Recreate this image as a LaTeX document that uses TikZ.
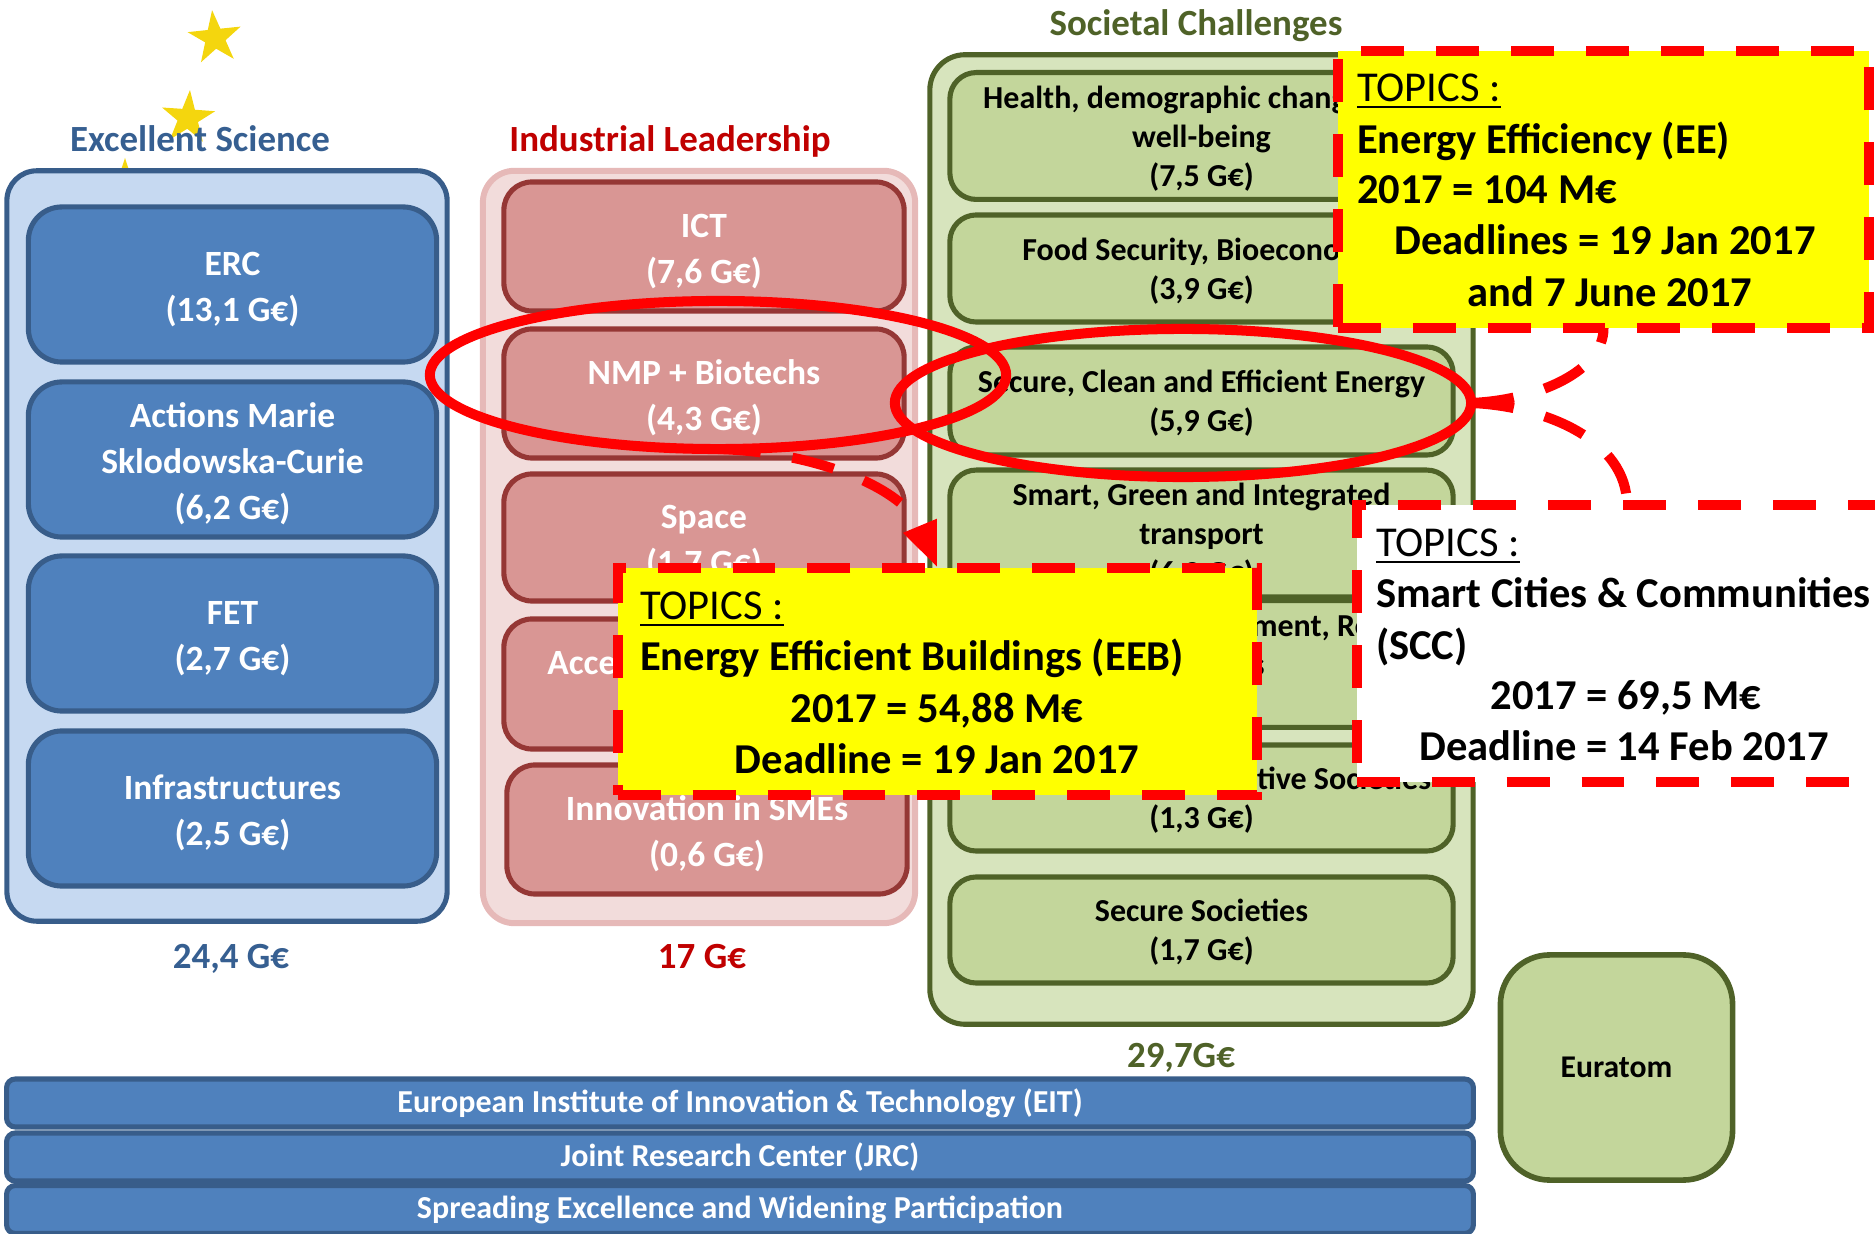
\documentclass[tikz,border=0pt]{standalone}
\usepackage{fontspec}
\setmainfont{Carlito}
\usetikzlibrary{shapes.geometric,arrows.meta}
\definecolor{esline}{HTML}{385D8A}
\definecolor{esbg}{HTML}{C6D9F1}
\definecolor{esbox}{HTML}{4F81BD}
\definecolor{estitle}{HTML}{365F91}
\definecolor{ilbg}{HTML}{F2DCDB}
\definecolor{illine}{HTML}{E6B9B8}
\definecolor{ilbox}{HTML}{D99694}
\definecolor{ilboxline}{HTML}{953735}
\definecolor{iltitle}{HTML}{C00000}
\definecolor{scbg}{HTML}{D7E4BD}
\definecolor{scline}{HTML}{4F6228}
\definecolor{scbox}{HTML}{C3D69B}
\definecolor{starc}{HTML}{F4D60E}
\definecolor{topicred}{HTML}{FF0000}
\definecolor{topicyel}{HTML}{FFFF00}
\newcommand\bxtop{\rule{0pt}{1.2em}}
\newcommand\bxbot{\rule[-0.42em]{0pt}{0.42em}}
\newcommand\gxtop{\rule{0pt}{1.11em}}
\newcommand\gxbot{\rule[-0.416em]{0pt}{0.416em}}
\begin{document}
\begin{tikzpicture}[x=0.01cm,y=-0.01cm,
  every node/.style={inner sep=0pt,outer sep=0pt},
  staricon/.style={star,star points=5,star point ratio=2.6,fill=starc,minimum size=0.56cm},
  coltitle/.style={font=\bfseries\fontsize{10.5}{12.6}\selectfont,text height=6.8pt,text depth=0pt},
  esouter/.style={draw=esline,fill=esbg,line width=1.45pt,rounded corners=8.5pt,minimum width=4.40cm,minimum height=7.50cm},
  esin/.style={draw=esline,fill=esbox,line width=1.45pt,rounded corners=9.5pt,minimum width=4.08cm,minimum height=1.55cm,text=white,align=center,font=\bfseries\fontsize{10.1}{13.1}\selectfont},
  ilouter/.style={draw=illine,fill=ilbg,line width=1.7pt,rounded corners=9pt,minimum width=4.32cm,minimum height=7.52cm},
  ilin/.style={draw=ilboxline,fill=ilbox,line width=1.45pt,rounded corners=8pt,minimum width=4.00cm,minimum height=1.29cm,text=white,align=center,font=\bfseries\fontsize{10.1}{13.1}\selectfont},
  scouter/.style={draw=scline,fill=scbg,line width=1.45pt,rounded corners=10pt,minimum width=5.43cm,minimum height=9.69cm},
  scin/.style={draw=scline,fill=scbox,line width=1.45pt,rounded corners=7.5pt,minimum width=5.03cm,minimum height=1.07cm,text=black,align=center,font=\bfseries\fontsize{9.1}{11.1}\selectfont},
  barbox/.style={draw=esline,fill=esbox,line width=1.45pt,rounded corners=2.5pt,minimum width=14.66cm,minimum height=0.48cm,text=white,font=\bfseries\fontsize{9.1}{10.8}\selectfont},
  eurbox/.style={draw=scline,fill=scbox,line width=1.6pt,rounded corners=14pt,minimum width=2.32cm,minimum height=2.25cm,font=\bfseries\fontsize{9}{10.8}\selectfont},
  ring/.style={ellipse,draw=topicred,line width=2.85pt,minimum width=5.76cm,minimum height=1.48cm},
  link/.style={draw=topicred,line width=2.85pt,dash pattern=on 12.2pt off 9.1pt},
  topicbox/.style={draw=topicred,line width=2.85pt,dash pattern=on 12.2pt off 9.1pt},
  topicln/.style={font=\fontsize{12.1}{14.5}\selectfont,text height=7.8pt,text depth=0pt}
]
\useasboundingbox (0,0) rectangle (1875,1234);
\clip (0,0) rectangle (1875,1234);

% stars
\node[staricon,rotate=6] (s1) at (215,38) {};
\node[staricon,rotate=-4] (s2) at (188,118) {};
\node[staricon] (s3) at (125,186) {};

% column titles
\node[coltitle,text=estitle] (tes) at (200,140) {Excellent Science};
\node[coltitle,text=iltitle] (til) at (670,140) {Industrial Leadership};
\node[coltitle,text=scline] (tsc) at (1196,24) {Societal Challenges};

% Excellent Science
\node[esouter] (esout) at (227,546) {};
\node[esin] (es1) at (232.5,284.5) {\bxtop ERC\\(13,1 G€)\bxbot};
\node[esin] (es2) at (232.5,459.5) {\bxtop Actions Marie\\Sklodowska-Curie\\(6,2 G€)\bxbot};
\node[esin] (es3) at (232.5,633.5) {\bxtop FET\\(2,7 G€)\bxbot};
\node[esin] (es4) at (232.5,808.5) {\bxtop Infrastructures\\(2,5 G€)\bxbot};
\node[coltitle,text=estitle] (v1) at (231,957) {24,4 G€};

% Industrial Leadership
\node[ilouter] (ilout) at (699,547) {};
\node[ilin] (il1) at (704,246.5) {\bxtop ICT\\(7,6 G€)\bxbot};
\node[ilin] (il2) at (704,393.5) {\bxtop NMP + Biotechs\\(4,3 G€)\bxbot};
\node[ilin,minimum height=1.27cm] (il3) at (704,537.5) {\bxtop Space\\(1,7 G€)\bxbot};
\node[ilin,minimum height=1.30cm] (il4) at (704,684) {\bxtop Access to risk finance\\(2,8 G€)\bxbot};
\node[ilin] (il5) at (707,829.5) {\bxtop Innovation in SMEs\\(0,6 G€)\bxbot};
\node[coltitle,text=iltitle] (v2) at (702,957) {17 G€};

% Societal Challenges
\node[scouter] (scout) at (1201.5,539.5) {};
\node[scin,minimum height=1.08cm] (sc1) at (1201.5,136) {\gxtop Health, demographic change and\\well-being\\(7,5 G€)\gxbot};
\node[scin] (sc2) at (1201.5,268.5) {\gxtop Food Security, Bioeconomy\\(3,9 G€)\gxbot};
\node[scin,minimum height=1.08cm] (sc3) at (1201.5,401) {\gxtop Secure, Clean and Efficient Energy\\(5,9 G€)\gxbot};
\node[scin] (sc4) at (1201.5,533.5) {\gxtop Smart, Green and Integrated\\transport\\(6,3 G€)\gxbot};
\node[scin,minimum height=1.08cm] (sc5) at (1201.5,664) {\gxtop Climate action, Environment, Resource\\Materials\\(3,1 G€)\gxbot};
\node[scin,minimum height=1.06cm] (sc6) at (1201.5,798) {\gxtop Innovative and Reflective Societies\\(1,3 G€)\gxbot};
\node[scin,minimum height=1.06cm] (sc7) at (1201.5,930) {\gxtop Secure Societies\\(1,7 G€)\gxbot};
\node[coltitle,text=scline] (v3) at (1181,1056) {29,7G€};

% bottom bars and Euratom
\node[barbox] (b1) at (740,1103) {European Institute of Innovation \& Technology (EIT)};
\node[barbox] (b2) at (740,1157) {Joint Research Center (JRC)};
\node[barbox] (b3) at (740,1209.5) {Spreading Excellence and Widening Participation};
\node[eurbox] (eur) at (1616.5,1067.5) {Euratom};

% highlight ellipses
\node[ring] (e1) at (718,375) {};
\node[ring] (e2) at (1183,403) {};

% connector end points on the topic boxes
\coordinate (eeS) at (1603.5,328);
\coordinate (sccN) at (1627,505);
\coordinate (eebN) at (937.5,568);

% connectors
\draw[link,-{Triangle[length=13pt,width=9.5pt]}] (e1.south) .. controls (820,452) and (905,490) .. (eebN);
\draw[link] (e2.east) .. controls (1540,400) and (1604,370) .. (eeS);
\draw[link] (e2.east) .. controls (1545,406) and (1627,440) .. (sccN);

% TOPICS : Energy Efficiency
\node[topicbox,fill=topicyel,minimum width=5.31cm,minimum height=2.77cm] (ee) at (1603.5,189.5) {};
\node[topicln,anchor=west] (ee1) at (1357,88) {\underline{TOPICS :}};
\node[topicln,anchor=west] (ee2) at (1357,140) {\bfseries Energy Efficiency (EE)};
\node[topicln,anchor=west] (ee3) at (1357,190) {\bfseries 2017 = 104 M€};
\node[topicln] (ee4) at (1605,241) {\bfseries Deadlines = 19 Jan 2017};
\node[topicln] (ee5) at (1610,293) {\bfseries and 7 June 2017};

% TOPICS : Smart Cities
\node[topicbox,fill=white,minimum width=5.40cm,minimum height=2.77cm] (scc) at (1627,643.5) {};
\node[topicln,anchor=west] (scc1) at (1376,543) {\underline{TOPICS :}};
\node[topicln,anchor=west] (scc2) at (1376,594) {\bfseries Smart Cities \& Communities};
\node[topicln,anchor=west] (scc3) at (1376,646) {\bfseries (SCC)};
\node[topicln] (scc4) at (1626,696) {\bfseries 2017 = 69,5 M€};
\node[topicln] (scc5) at (1624,747) {\bfseries Deadline = 14 Feb 2017};

% TOPICS : Energy Efficient Buildings
\node[topicbox,fill=topicyel,minimum width=6.39cm,minimum height=2.27cm] (eeb) at (937.5,681.5) {};
\node[topicln,anchor=west] (eeb1) at (640,606) {\underline{TOPICS :}};
\node[topicln,anchor=west] (eeb2) at (640,657) {\bfseries Energy Efficient Buildings (EEB)};
\node[topicln] (eeb3) at (937,709) {\bfseries 2017 = 54,88 M€};
\node[topicln] (eeb4) at (937,760) {\bfseries Deadline = 19 Jan 2017};
\end{tikzpicture}
\end{document}
